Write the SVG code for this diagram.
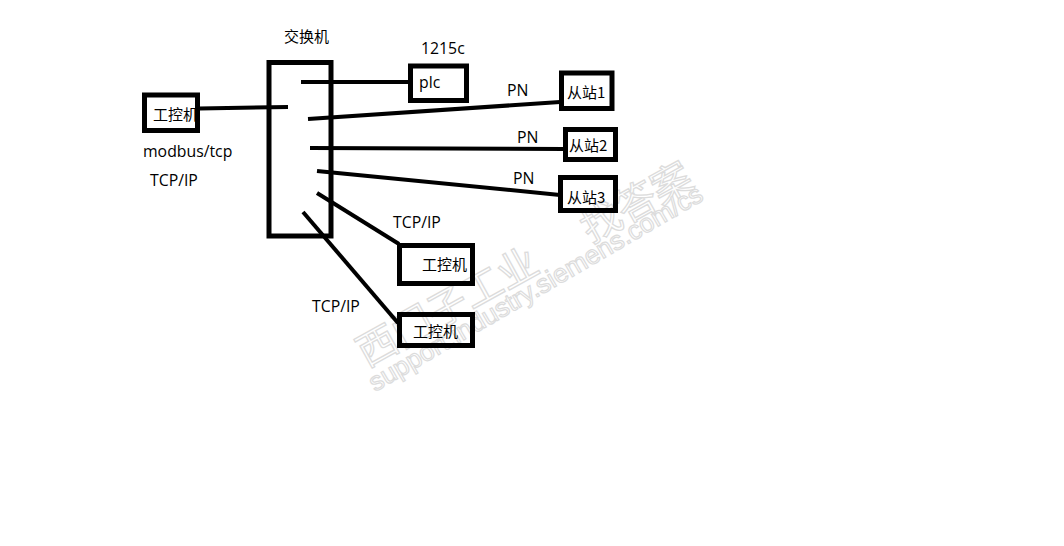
<svg xmlns="http://www.w3.org/2000/svg" width="1064" height="546" viewBox="0 0 1064 546">
<style>
.box{fill:none;stroke:#000;stroke-width:5}
.ln{stroke:#000;stroke-width:4;stroke-linecap:butt;fill:none}
.t{font-family:"Open Sans","Noto Sans CJK SC",sans-serif;font-size:15.8px;fill:#000}
.zh{font-family:"Noto Sans CJK SC",sans-serif;font-size:15px;fill:#000}
.wm{font-family:"Noto Sans CJK SC",sans-serif;fill:#fff;stroke:#dcdcdc;stroke-width:1.3}
.wl{font-family:"Liberation Sans",Arial,sans-serif;fill:#fff;stroke:#dcdcdc;stroke-width:1.2}
</style>
<rect width="1064" height="546" fill="#fff"/>
<g id="watermark">
<g transform="translate(377,345) rotate(-29)">
<text class="wm" x="-20" y="15" font-size="40">西门子工业</text>
<text class="wm" x="236" y="15" font-size="40">找答案</text>
</g>
<text class="wl" font-size="26" transform="translate(375,392) rotate(-30.3)" textLength="382" lengthAdjust="spacingAndGlyphs">support.industry.siemens.com/cs</text>
</g>
<g id="connectors">
<line class="ln" x1="199" y1="108.5" x2="288" y2="107"/>
<line class="ln" x1="301" y1="82" x2="409" y2="82"/>
<line class="ln" x1="308" y1="119" x2="560" y2="102"/>
<line class="ln" x1="310" y1="148" x2="564" y2="149"/>
<line class="ln" x1="317" y1="171" x2="560" y2="195"/>
<line class="ln" x1="317" y1="193" x2="399" y2="244"/>
<line class="ln" x1="303" y1="212" x2="398" y2="323"/>
</g>
<g id="switch">
<rect class="box" x="269" y="62.5" width="62" height="173.5"/>
<text class="zh" x="284" y="42">交换机</text>
</g>
<g id="ipc-left">
<rect class="box" x="144.5" y="95" width="53" height="35.5"/>
<text class="zh" x="153" y="120">工控机</text>
</g>
<text class="t" x="143" y="157">modbus/tcp</text>
<text class="t" x="150" y="186">TCP/IP</text>
<g id="plc">
<rect class="box" x="410.5" y="66" width="56" height="34.5"/>
<text class="t" x="419" y="88">plc</text>
<text class="t" x="421" y="54">1215c</text>
</g>
<g id="slave1">
<rect class="box" x="561.5" y="73" width="50.5" height="35.5"/>
<text class="zh" x="567" y="98">从站1</text>
</g>
<text class="t" x="507" y="96">PN</text>
<g id="slave2">
<rect class="box" x="565.5" y="129.5" width="50" height="30"/>
<text class="zh" x="569" y="151">从站2</text>
</g>
<text class="t" x="517" y="143">PN</text>
<g id="slave3">
<rect class="box" x="560.5" y="177.5" width="55" height="33"/>
<text class="zh" x="567" y="203">从站3</text>
</g>
<text class="t" x="513" y="184">PN</text>
<g id="ipc-upper">
<rect class="box" x="399.5" y="245.5" width="73" height="38"/>
<text class="zh" x="422" y="270">工控机</text>
</g>
<text class="t" x="393" y="228">TCP/IP</text>
<g id="ipc-lower">
<rect class="box" x="399.5" y="314.5" width="73" height="31"/>
<text class="zh" x="413" y="337">工控机</text>
</g>
<text class="t" x="312" y="312">TCP/IP</text>
</svg>
